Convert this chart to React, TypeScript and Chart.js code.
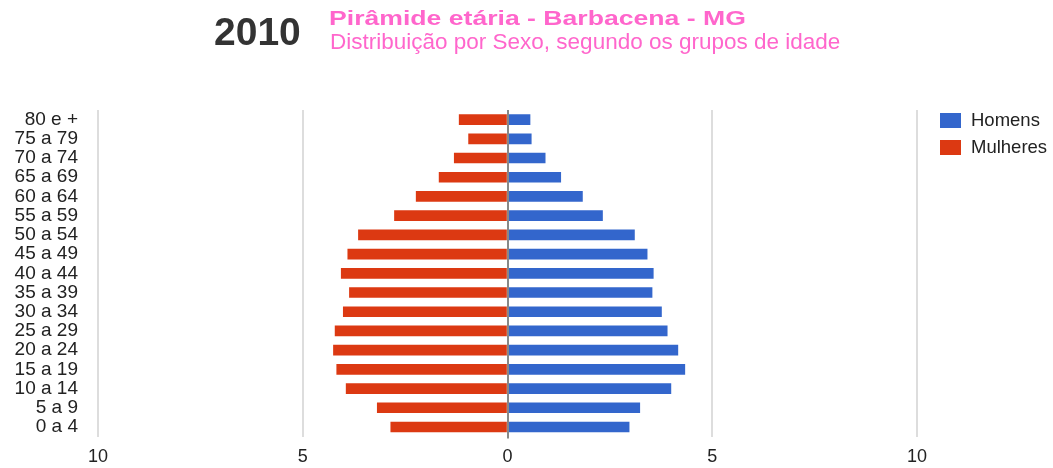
import React, { useEffect, useRef } from "react";
import { Chart, registerables } from "chart.js";

Chart.register(...registerables);

const ageGroups = [
  "80 e +", "75 a 79", "70 a 74", "65 a 69", "60 a 64", "55 a 59", "50 a 54", "45 a 49",
  "40 a 44", "35 a 39", "30 a 34", "25 a 29", "20 a 24", "15 a 19", "10 a 14", "5 a 9", "0 a 4",
];
const men = [0.55, 0.58, 0.92, 1.3, 1.83, 2.32, 3.1, 3.41, 3.56, 3.53, 3.76, 3.9, 4.16, 4.33, 3.99, 3.23, 2.97];
const women = [1.18, 0.95, 1.3, 1.67, 2.23, 2.76, 3.64, 3.9, 4.06, 3.86, 4.01, 4.21, 4.25, 4.17, 3.94, 3.18, 2.85];
const seriesNames = ["Homens", "Mulheres"];
const seriesColors = ["#3366cc", "#dc3912"];

const FONT = "'Liberation Sans', Arial, sans-serif";

const zeroLine = {
  id: "zeroLine",
  afterDatasetsDraw(chart: any) {
    const { ctx, chartArea, scales } = chart;
    const x = Math.round(scales.x.getPixelForValue(0));
    ctx.save();
    ctx.strokeStyle = "#888888";
    ctx.lineWidth = 2;
    ctx.beginPath();
    ctx.moveTo(x, chartArea.top);
    ctx.lineTo(x, chartArea.bottom + 2);
    ctx.stroke();
    ctx.restore();
  },
};

export default function App() {
  const ref = useRef<HTMLCanvasElement>(null);

  useEffect(() => {
    document.body.style.margin = "0";
    const chart = new Chart(ref.current as HTMLCanvasElement, {
      type: "bar",
      data: {
        labels: ageGroups,
        datasets: [
          { label: seriesNames[0], data: men, backgroundColor: seriesColors[0], barThickness: 10 },
          { label: seriesNames[1], data: women.map((v) => -v), backgroundColor: seriesColors[1], barThickness: 10 },
        ],
      },
      options: {
        indexAxis: "y",
        responsive: false,
        animation: false,
        layout: { padding: { top: 110, right: 136, bottom: 0, left: 0 } },
        plugins: { legend: { display: false }, title: { display: false }, tooltip: { enabled: false } },
        scales: {
          x: {
            type: "linear",
            min: -10,
            max: 10,
            stacked: true,
            border: { display: false },
            grid: {
              color: (c: any) => (c.tick && c.tick.value === 0 ? "#888888" : "#dddddd"),
              lineWidth: 2,
              drawTicks: false,
            },
            ticks: {
              stepSize: 5,
              color: "#222222",
              padding: 10,
              font: { size: 18, family: FONT },
              callback: (v: any) => String(Math.abs(Number(v))),
            },
            afterFit: (s: any) => {
              s.height = 31;
            },
          },
          y: {
            stacked: true,
            border: { display: false },
            grid: { display: false, drawTicks: false },
            ticks: {
              color: "#222222",
              padding: 20,
              autoSkip: false,
              font: { size: 19, family: FONT },
            },
            afterFit: (s: any) => {
              s.width = 98;
            },
          },
        },
      },
      plugins: [zeroLine],
    });
    return () => chart.destroy();
  }, []);

  const text: React.CSSProperties = { position: "absolute", whiteSpace: "nowrap", fontFamily: FONT, lineHeight: 1 };

  return (
    <div style={{ position: "relative", width: 1053, height: 468, background: "#ffffff", overflow: "hidden" }}>
      <canvas ref={ref} width={1053} height={468} style={{ position: "absolute", left: 0, top: 0 }} />
      <div style={{ ...text, left: 214, top: 12, fontSize: 39, fontWeight: "bold", color: "#333333" }}>2010</div>
      <div
        style={{
          ...text,
          left: 329,
          top: 8,
          fontSize: 20,
          fontWeight: "bold",
          color: "#ff66cc",
          transform: "scaleX(1.33)",
          transformOrigin: "left top",
        }}
      >
        Pirâmide etária - Barbacena - MG
      </div>
      <div style={{ ...text, left: 330, top: 31, fontSize: 22.5, color: "#ff66cc" }}>
        Distribuição por Sexo, segundo os grupos de idade
      </div>
      {seriesNames.map((n, i) => (
        <div key={n} style={{ position: "absolute", left: 940, top: 113 + i * 27 }}>
          <div style={{ position: "absolute", left: 0, top: 0, width: 21, height: 15, background: seriesColors[i] }} />
          <div style={{ ...text, left: 31, top: -2, fontSize: 18.5, color: "#222222" }}>{n}</div>
        </div>
      ))}
    </div>
  );
}
